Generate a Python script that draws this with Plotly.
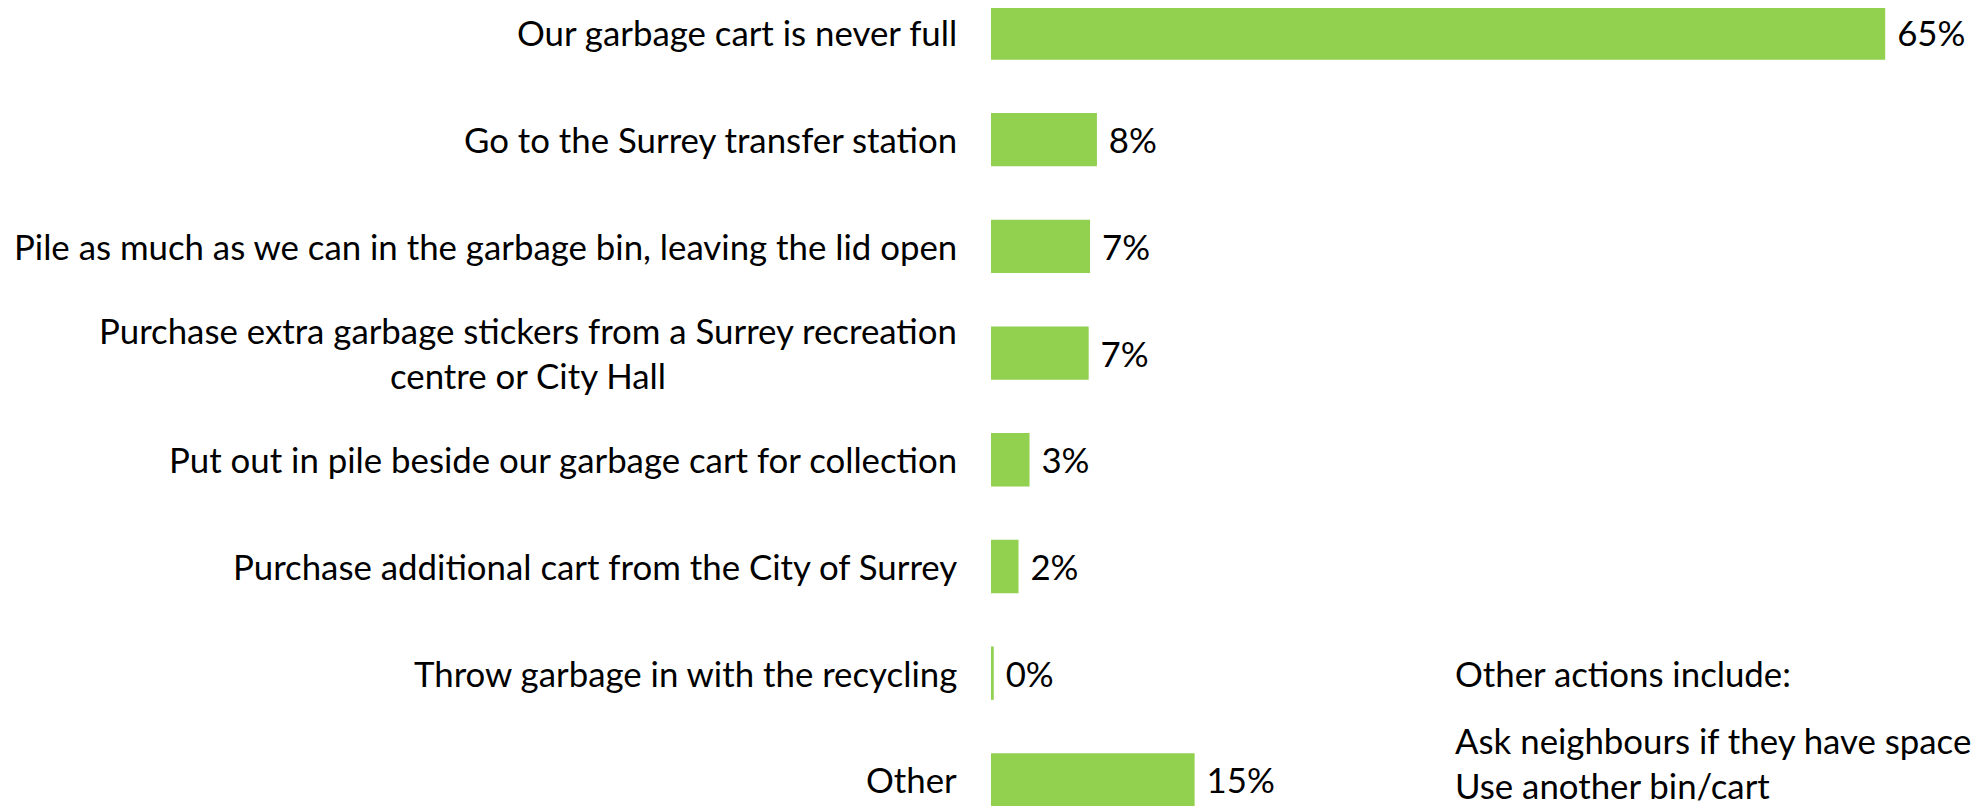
import plotly.graph_objects as go

categories = [
    "Our garbage cart is never full",
    "Go to the Surrey transfer station",
    "Pile as much as we can in the garbage bin, leaving the lid open",
    "Purchase extra garbage stickers from a Surrey recreation<br>centre or City Hall",
    "Put out in pile beside our garbage cart for collection",
    "Purchase additional cart from the City of Surrey",
    "Throw garbage in with the recycling",
    "Other",
]
values = [65.0, 7.7, 7.2, 7.1, 2.8, 2.0, 0.2, 14.8]
labels = ["65%", "8%", "7%", "7%", "3%", "2%", "0%", "15%"]

note_title = "Other actions include:"
note_items = [
    "Ask neighbours if they have space in their cart",
    "Use another bin/cart",
]

FONT = "Lato"
SIZE = 34.8
GREEN = "#92D050"

# page body adds an 8px offset, so the figure is drawn 8px smaller
W, H = 1979 - 8, 806 - 8

fig = go.Figure(go.Bar(
    x=values,
    y=list(range(len(categories))),
    orientation="h",
    marker=dict(color=GREEN, line=dict(width=0)),
    width=0.5,
    text=labels,
    texttemplate="\u00a0%{text}",
    textposition="outside",
    textfont=dict(family=FONT, size=SIZE, color="black"),
    cliponaxis=False,
    hoverinfo="skip",
))

# category labels, lines centred like the original
for i, cat in enumerate(categories):
    fig.add_annotation(
        x=0, y=i, xref="x", yref="y", text=cat,
        xanchor="right", yanchor="middle", align="center",
        xshift=-32, showarrow=False,
        font=dict(family=FONT, size=SIZE, color="black"),
    )

fig.add_annotation(
    x=33.6, y=6, xref="x", yref="y", text=note_title,
    xanchor="left", yanchor="middle", align="left", showarrow=False,
    font=dict(family=FONT, size=SIZE, color="black"),
)
fig.add_annotation(
    x=33.6, y=6.84, xref="x", yref="y", text="<br>".join(note_items),
    xanchor="left", yanchor="middle", align="left", showarrow=False,
    font=dict(family=FONT, size=SIZE, color="black"),
)

fig.update_layout(
    width=W, height=H,
    margin=dict(l=983, r=25, t=0, b=0),
    plot_bgcolor="white", paper_bgcolor="white",
    showlegend=False,
    xaxis=dict(range=[0, 70], visible=False),
    yaxis=dict(range=[7.245, -0.234], visible=False),
)

fig.write_html("out.html")
